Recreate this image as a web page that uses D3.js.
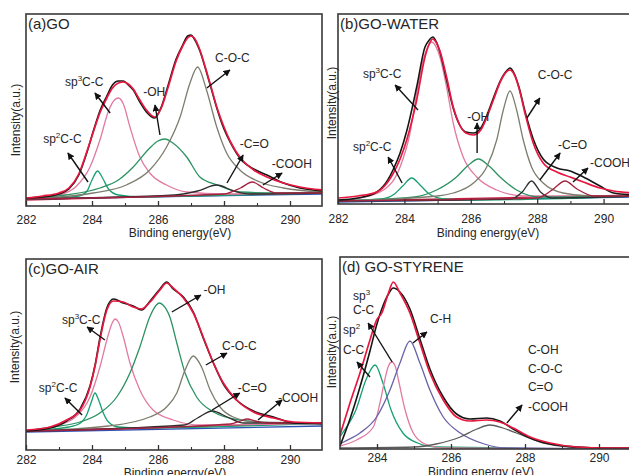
<!DOCTYPE html>
<html>
<head>
<meta charset="utf-8">
<script src="https://cdn.jsdelivr.net/npm/d3@7"></script>
<style>
  body { margin: 0; background: #fff; }
  text { font-family: "Liberation Sans", Arial, sans-serif; fill: #262626; }
</style>
</head>
<body>
<div id="chart"></div>
<script>
// C1s XPS fits of GO samples (intensity in a.u.)

// ---- (a) GO ----
var aE   = [282.0, 282.5, 283.0, 283.3, 283.6, 283.85, 284.05, 284.25, 284.45, 284.62, 284.8, 284.95, 285.1, 285.25, 285.45, 285.65, 285.9, 286.1, 286.3, 286.55, 286.75, 286.9, 287.0, 287.1, 287.27, 287.45, 287.6, 287.8, 288.0, 288.2, 288.5, 288.9, 289.3, 289.8, 290.3, 291.0];
var aFit = [8, 10, 13, 18, 32, 55, 75, 94, 108, 118, 123, 124, 122, 117, 106, 96, 89, 98, 118, 145, 160, 168, 170, 168, 156, 137, 120, 97, 79, 64, 48, 36, 29, 23, 19, 16];
var aRaw = [8, 9, 12, 17, 31, 54, 76, 96, 110, 121, 125, 125, 121, 116, 104, 94, 88, 99, 120, 147, 161, 170, 171, 167, 155, 136, 119, 96, 77, 63, 47, 37, 31, 23, 18, 15];
var aSp2  = [[282,7],[283,8],[283.6,10],[283.85,15],[284.0,26],[284.17,35],[284.32,28],[284.5,17],[284.8,11],[285.5,9],[287,10],[291,13]];
var aSp3  = [[282,7],[283,11],[283.5,19],[283.94,39],[284.24,66],[284.5,95],[284.68,106],[284.8,108],[284.95,102],[285.15,79],[285.45,49],[285.75,33],[286.26,21],[286.87,14],[288,12],[291,13]];
var aOH   = [[282,7],[283.2,11],[284.24,18],[284.8,26],[285.25,39],[285.75,58],[286.0,65],[286.21,67],[286.45,63],[286.87,49],[287.27,29],[287.8,21],[288.48,14],[289.8,13],[291,13]];
var aCOC  = [[282,7],[284.03,13],[285.04,21],[285.75,36],[286.26,59],[286.67,89],[286.97,123],[287.2,139],[287.47,116],[287.78,79],[288.08,53],[288.48,36],[289.09,24],[289.8,18],[291,14]];
var aCO   = [[282,7],[286.5,11],[287.2,15],[287.78,21],[288.3,15],[288.8,12],[291,13]];
var aCOOH = [[282,7],[288.0,12],[288.5,18],[288.86,24],[289.2,18],[289.6,13],[291,13]];
var aBase = [[282,6],[291,14]];
var aBase2 = [[282,7],[291,12]];

// ---- (b) GO-WATER ----
var bE   = [282.0, 282.6, 283.17, 283.5, 283.67, 283.87, 284.07, 284.37, 284.62, 284.75, 284.85, 284.95, 285.07, 285.27, 285.47, 285.65, 285.85, 286.08, 286.3, 286.5, 286.68, 286.9, 287.1, 287.18, 287.3, 287.45, 287.63, 287.88, 288.18, 288.59, 288.99, 289.39, 289.89, 290.3, 291.0];
var bFit = [6, 8, 12, 22, 31, 45, 64, 104, 147, 160, 165, 162, 153, 127, 97, 80, 71, 69, 74, 88, 104, 123, 133, 134, 130, 116, 91, 61, 41, 32, 27, 22, 16, 13, 11];
var bRaw = [4, 6, 12, 24, 35, 51, 73, 117, 157, 164, 167, 163, 152, 124, 96, 80, 72, 71, 76, 90, 106, 124, 134, 136, 131, 117, 93, 65, 45, 36, 33, 27, 18, 11, 9];
var bSp2  = [[282,3],[283.3,5],[283.7,10],[283.95,18],[284.22,26],[284.5,18],[284.75,10],[285.2,5],[286,4],[291,8]];
var bSp3  = [[282,3],[282.67,6],[283.37,14],[283.87,37],[284.17,71],[284.37,111],[284.57,144],[284.82,162],[285.07,147],[285.27,117],[285.47,81],[285.77,47],[286.18,27],[286.78,14],[287.6,8],[291,8]];
var bOH   = [[282,3],[284.3,7],[284.97,14],[285.57,27],[285.9,38],[286.23,45],[286.55,38],[286.88,27],[287.38,14],[288.1,7],[291,8]];
var bCOC  = [[282,3],[285.0,8],[285.47,11],[286.08,21],[286.48,37],[286.78,64],[286.98,94],[287.18,113],[287.38,94],[287.58,64],[287.83,37],[288.18,21],[288.78,11],[289.6,8],[291,8]];
var bCO   = [[282,3],[287.2,5],[287.55,12],[287.83,23],[288.1,12],[288.45,6],[291,8]];
var bCOOH = [[282,3],[288.0,6],[288.45,14],[288.84,23],[289.2,15],[289.7,8],[291,8]];
var bBase = [[282,3],[291,9]];
var bBase2 = [[282,2],[291,7]];

// ---- (c) GO-AIR ----
var cE   = [282.0, 282.73, 283.23, 283.64, 283.94, 284.1, 284.24, 284.45, 284.65, 284.95, 285.25, 285.5, 285.76, 286.06, 286.26, 286.46, 286.77, 287.07, 287.37, 287.68, 287.98, 288.38, 288.89, 289.5, 290.1, 291.0];
var cFit = [20, 23, 30, 40, 63, 85, 110, 140, 149, 148, 143, 141, 148, 160, 167, 162, 152, 137, 113, 87, 67, 50, 38, 32, 28, 27];
var cRaw = [19, 22, 29, 41, 64, 86, 112, 142, 151, 147, 144, 140, 149, 161, 168, 161, 153, 138, 112, 87, 66, 50, 39, 33, 27, 26];
var cSp2  = [[282,19],[283.3,23],[283.65,27],[283.85,36],[283.98,48],[284.09,57],[284.2,50],[284.33,38],[284.5,28],[284.8,23],[285.5,22],[291,27]];
var cSp3  = [[282,19],[282.8,23],[283.5,33],[283.94,53],[284.24,83],[284.45,110],[284.6,126],[284.7,131],[284.8,128],[284.95,113],[285.15,87],[285.45,60],[285.85,40],[286.46,30],[287.3,25],[291,27]];
var cOH   = [[282,19],[282.8,23],[283.64,28],[284.24,37],[284.75,53],[285.15,77],[285.45,103],[285.75,133],[285.95,145],[286.04,147],[286.15,145],[286.36,133],[286.57,107],[286.82,77],[287.17,53],[287.68,38],[288.48,30],[289.8,27],[291,27]];
var cCOC  = [[282,19],[284.5,24],[285.75,33],[286.26,43],[286.57,57],[286.82,80],[287.07,94],[287.32,83],[287.58,60],[287.88,43],[288.28,33],[289.0,28],[291,27]];
var cCO   = [[282,19],[286.8,25],[287.2,32],[287.65,39],[288.1,33],[288.6,27],[291,27]];
var cCOOH = [[282,19],[288.2,26],[288.5,29],[288.7,31],[288.95,29],[289.3,27],[291,27]];
var cBase = [[282,19],[291,27]];
var cBase2 = [[282,18],[291,24]];

// ---- (d) GO-STYRENE ----
var dE   = [283.0, 283.27, 283.54, 283.81, 283.99, 284.13, 284.31, 284.44, 284.62, 284.89, 285.16, 285.43, 285.79, 286.15, 286.51, 286.96, 287.32, 287.68, 288.14, 288.68, 289.4, 290.2, 291.0];
var dFit = [14, 46, 76, 109, 129, 136, 156, 167, 156, 136, 106, 76, 49, 32, 28, 29, 27, 21, 12, 6, 2, 1, 1];
var dRaw = [3, 30, 62, 98, 124, 140, 155, 161, 157, 140, 110, 80, 52, 35, 30, 31, 28, 20, 11, 5, 2, 1, 1];
var dSp2 = [[283,12],[283.07,16],[283.43,39],[283.7,69],[283.95,84],[284.16,66],[284.38,39],[284.7,16],[285.1,6],[285.6,2],[291,0]];
var dSp3 = [[283,3],[283.45,9],[283.9,22],[284.08,46],[284.21,69],[284.3,82],[284.4,87],[284.5,82],[284.58,69],[284.76,39],[284.98,16],[285.3,5],[285.8,1],[291,0]];
var dCH  = [[283,5],[283.1,7],[283.54,16],[283.99,32],[284.35,59],[284.62,86],[284.89,108],[285.16,86],[285.43,59],[285.79,32],[286.25,16],[286.9,5],[287.5,1],[291,0]];
var dOx  = [[283,1],[285.0,2],[285.6,5],[286.25,12],[286.7,20],[287.05,24],[287.4,21],[287.77,16],[288.5,6],[289.2,2],[291,0]];

// tick values
var ticksABC = [282, 284, 286, 288, 290];
var minorABC = [283, 285, 287, 289];
var ticksD = [284, 286, 288, 290];
var minorD = [285, 287, 289];

// labels: [text, E, h]  ("^" marks a superscript character)
var aLabels = [["sp^3C-C",283.18,120],["-OH",285.55,110],["C-O-C",287.73,144],["sp^2C-C",282.52,63],["-C=O",288.48,58],["-COOH",289.45,38]];
var bLabels = [["sp^3C-C",282.75,126],["-OH",285.89,83],["C-O-C",288.02,125],["sp^2C-C",282.45,53],["-C=O",288.63,55],["-COOH",289.59,37]];
var cLabels = [["sp^3C-C",283.09,126],["-OH",287.38,156],["C-O-C",287.94,100],["sp^2C-C",282.39,58],["-C=O",288.42,58],["-COOH",289.64,48]];
var dLabels = [["sp^3",283.35,149],["C-C",283.35,135],["sp^2",283.08,115],["C-C",283.08,95],["C-H",285.43,126],
               ["C-OH",288.08,95],["C-O-C",288.08,76],["C=O",288.08,58],["-COOH",288.08,38]];

// arrows: [E tail, h tail, E head, h head]
var aArrows = [[284.55,93,284.09,113],[286.06,71,285.91,101],[287.48,118,288.18,136],[283.88,24,283.27,53],[288.09,23,288.58,51],[289.18,21,289.76,33]];
var bArrows = [[284.41,94,283.72,119],[286.19,51,286.19,81],[287.69,86,288.08,106],[283.93,21,283.51,47],[288.08,24,288.69,51],[289.08,22,289.53,36]];
var cArrows = [[284.39,110,283.85,123],[286.42,138,287.3,155],[287.45,85,288.09,97],[283.7,35,283.18,52],[287.64,40,288.48,57],[289.03,30,289.76,50]];
var dArrows = [[284.41,87,283.76,126],[283.81,72,283.46,87],[284.97,106,285.35,117],[287.51,26,287.92,44]];

var col = {
  fit: "#e8173f", raw: "#161616", sp2: "#16a070", sp3: "#e27aa2", oh: "#2b9262",
  coc: "#7d7d6e", co: "#2e2e2e", cooh: "#a4223f", ch: "#6862a8", ox: "#5b5b5b",
  base: "#c42040", base2: "#2d52b3"
};

function zip(e, v) { return e.map(function(d, i) { return [d, v[i]]; }); }

var panels = [
  { title: "(a)GO", xDom: [282, 291], xRange: [26, 323], yMax: 192, top: 14, bottom: 206, right: 322,
    ticks: ticksABC, minor: minorABC, pad: 9, xTitle: "Binding energy(eV)", xTitleX: 180, xTitleY: 237,
    yTitleX: 20, yTitleY: 120,
    curves: [[aBase, col.base], [aBase2, col.base2], [aSp2, col.sp2], [aSp3, col.sp3], [aOH, col.oh], [aCOC, col.coc], [aCO, col.co], [aCOOH, col.cooh]],
    raw: zip(aE, aRaw), fit: zip(aE, aFit), labels: aLabels, arrows: aArrows },
  { title: "(b)GO-WATER", xDom: [282, 291], xRange: [338, 636.8], yMax: 190, top: 14, bottom: 204, right: 660,
    ticks: ticksABC, minor: minorABC, pad: 10, xTitle: "Binding energy(eV)", xTitleX: 488, xTitleY: 237,
    yTitleX: 336, yTitleY: 103,
    curves: [[bBase, col.base], [bBase2, col.base2], [bSp2, col.sp2], [bSp3, col.sp3], [bOH, col.oh], [bCOC, col.coc], [bCO, col.co], [bCOOH, col.cooh]],
    raw: zip(bE, bRaw), fit: zip(bE, bFit), labels: bLabels, arrows: bArrows },
  { title: "(c)GO-AIR", xDom: [282, 291], xRange: [26, 323], yMax: 191, top: 259, bottom: 450, right: 322,
    ticks: ticksABC, minor: minorABC, pad: 5, xTitle: "Binding energy(eV)", xTitleX: 175, xTitleY: 477,
    yTitleX: 19, yTitleY: 347,
    curves: [[cBase, col.base], [cBase2, col.base2], [cSp2, col.sp2], [cSp3, col.sp3], [cOH, col.oh], [cCOC, col.coc], [cCO, col.co], [cCOOH, col.cooh]],
    raw: zip(cE, cRaw), fit: zip(cE, cFit), labels: cLabels, arrows: cArrows },
  { title: "(d) GO-STYRENE", xDom: [283, 291], xRange: [340, 636], yMax: 192, top: 257, bottom: 449, right: 660,
    ticks: ticksD, minor: minorD, pad: 4, xTitle: "Binding energy (eV)", xTitleX: 481, xTitleY: 476,
    yTitleX: 336, yTitleY: 352,
    curves: [[dSp2, col.sp2], [dSp3, col.sp3], [dCH, col.ch], [dOx, col.ox]],
    raw: zip(dE, dRaw), fit: zip(dE, dFit), labels: dLabels, arrows: dArrows }
];

var svg = d3.select("#chart").append("svg")
  .attr("width", 629)
  .attr("height", 475);

svg.append("defs").append("marker")
  .attr("id", "head")
  .attr("viewBox", "0 0 10 10")
  .attr("refX", 9).attr("refY", 5)
  .attr("markerWidth", 5).attr("markerHeight", 5)
  .attr("markerUnits", "strokeWidth")
  .attr("orient", "auto")
  .append("path")
  .attr("d", "M0,0 L10,5 L0,10 z")
  .attr("fill", "#111");

panels.forEach(function(p, i) {
  var x = d3.scaleLinear().domain(p.xDom).range(p.xRange);
  var y = d3.scaleLinear().domain([0, p.yMax]).range([p.bottom, p.top]);
  var left = p.xRange[0];

  var g = svg.append("g");

  g.append("clipPath").attr("id", "clip" + i)
    .append("rect")
    .attr("x", left).attr("y", p.top)
    .attr("width", p.right - left).attr("height", p.bottom - p.top);

  var line = d3.line()
    .x(function(d) { return x(d[0]); })
    .y(function(d) { return y(d[1]); })
    .curve(d3.curveMonotoneX);

  var plot = g.append("g").attr("clip-path", "url(#clip" + i + ")");

  // component peaks + backgrounds
  p.curves.forEach(function(c) {
    plot.append("path")
      .attr("d", line(c[0]))
      .attr("fill", "none")
      .attr("stroke", c[1])
      .attr("stroke-width", 1.3);
  });

  // measured spectrum and fitted envelope
  plot.append("path").attr("d", line(p.raw))
    .attr("fill", "none").attr("stroke", col.raw).attr("stroke-width", 1.6);
  plot.append("path").attr("d", line(p.fit))
    .attr("fill", "none").attr("stroke", col.fit).attr("stroke-width", 1.7);

  // frame
  g.append("rect")
    .attr("x", left).attr("y", p.top)
    .attr("width", p.right - left).attr("height", p.bottom - p.top)
    .attr("fill", "none").attr("stroke", "#3a3a3a").attr("stroke-width", 1.6);

  // x axis, ticks pointing inward
  var ax = g.append("g").attr("transform", "translate(0," + p.bottom + ")")
    .call(d3.axisBottom(x).tickValues(p.ticks).tickSize(-5).tickSizeOuter(0)
      .tickPadding(p.pad).tickFormat(d3.format("d")));
  ax.select(".domain").remove();
  ax.selectAll("line").attr("stroke", "#333").attr("stroke-width", 1.3);
  ax.selectAll("text").attr("font-size", "12px").attr("fill", "#333");

  var axm = g.append("g").attr("transform", "translate(0," + p.bottom + ")")
    .call(d3.axisBottom(x).tickValues(p.minor).tickSize(-3).tickFormat(""));
  axm.select(".domain").remove();
  axm.selectAll("line").attr("stroke", "#333").attr("stroke-width", 1.1);

  // titles
  g.append("text")
    .attr("x", left + 2).attr("y", p.top + 15)
    .attr("font-size", "15px")
    .text(p.title);

  g.append("text")
    .attr("x", p.xTitleX).attr("y", p.xTitleY)
    .attr("text-anchor", "middle")
    .attr("font-size", "12px").attr("fill", "#333")
    .text(p.xTitle);

  g.append("text")
    .attr("transform", "translate(" + p.yTitleX + "," + p.yTitleY + ") rotate(-90)")
    .attr("text-anchor", "middle")
    .attr("font-size", "12px").attr("fill", "#444")
    .text("Intensity(a.u.)");

  // peak labels
  p.labels.forEach(function(l) {
    var t = g.append("text")
      .attr("x", x(l[1])).attr("y", y(l[2]))
      .attr("font-size", "12px");
    var parts = l[0].split("^");
    t.append("tspan").text(parts[0]);
    if (parts.length > 1) {
      t.append("tspan").attr("dy", -5).attr("font-size", "8px").text(parts[1].charAt(0));
      if (parts[1].length > 1) t.append("tspan").attr("dy", 5).text(parts[1].slice(1));
    }
  });

  // arrows from peak to label
  p.arrows.forEach(function(a) {
    g.append("line")
      .attr("x1", x(a[0])).attr("y1", y(a[1]))
      .attr("x2", x(a[2])).attr("y2", y(a[3]))
      .attr("stroke", "#111").attr("stroke-width", 1.4)
      .attr("marker-end", "url(#head)");
  });
});
</script>
</body>
</html>
